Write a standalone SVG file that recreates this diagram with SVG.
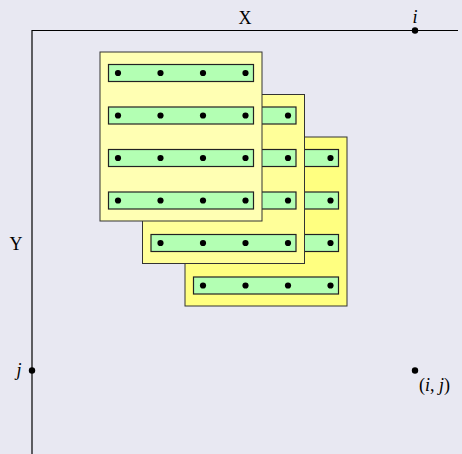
<svg xmlns="http://www.w3.org/2000/svg" xmlns:xlink="http://www.w3.org/1999/xlink" width="462" height="454" viewBox="0 0 462 454">
<style>
.axis{stroke:#000;stroke-width:1.2;fill:none}
.panel{stroke:#333;stroke-width:1}
.bar{fill:#b3ffb3;stroke:#222;stroke-width:1.2}
.dot{fill:#000}
.lbl{font-family:"Liberation Serif","DejaVu Serif",serif;font-size:18px;fill:#000}
.it{font-style:italic}
</style>
<defs>
<g id="barrow">
<rect class="bar" x="0" y="0" width="145" height="17"/>
<circle class="dot" cx="9.5" cy="8.5" r="3.1"/>
<circle class="dot" cx="52" cy="8.5" r="3.1"/>
<circle class="dot" cx="94.5" cy="8.5" r="3.1"/>
<circle class="dot" cx="137" cy="8.5" r="3.1"/>
</g>
<g id="bars">
<use xlink:href="#barrow" x="8.5" y="12.5"/>
<use xlink:href="#barrow" x="8.5" y="55"/>
<use xlink:href="#barrow" x="8.5" y="97.5"/>
<use xlink:href="#barrow" x="8.5" y="140"/>
</g>
</defs>
<rect width="462" height="454" fill="#e8e8f2"/>
<g id="connectors">
<path class="axis" d="M32,30.5 H458 M32,30 V454"/>
</g>
<g id="axis-x"><text class="lbl" x="245" y="24" text-anchor="middle">X</text></g>
<g id="axis-y"><text class="lbl" x="16" y="250" text-anchor="middle">Y</text></g>
<g id="point-i">
<circle class="dot" cx="415" cy="30.5" r="3.2"/>
<text class="lbl it" x="415" y="23" text-anchor="middle">i</text>
</g>
<g id="point-j">
<circle class="dot" cx="32" cy="370.5" r="3.2"/>
<text class="lbl it" x="19" y="376" text-anchor="middle">j</text>
</g>
<g id="point-ij">
<circle class="dot" cx="415" cy="370.5" r="3.2"/>
<text class="lbl" x="419" y="391">(<tspan class="it">i</tspan>, <tspan class="it">j</tspan>)</text>
</g>
<g id="panel3" transform="translate(185,137)">
<rect class="panel" x="0" y="0" width="162" height="169" fill="#ffff80"/>
<use xlink:href="#bars"/>
</g>
<g id="panel2" transform="translate(142.5,94.5)">
<rect class="panel" x="0" y="0" width="162" height="169" fill="#ffff99"/>
<use xlink:href="#bars"/>
</g>
<g id="panel1" transform="translate(100,52)">
<rect class="panel" x="0" y="0" width="162" height="169" fill="#ffffb3"/>
<use xlink:href="#bars"/>
</g>
</svg>
